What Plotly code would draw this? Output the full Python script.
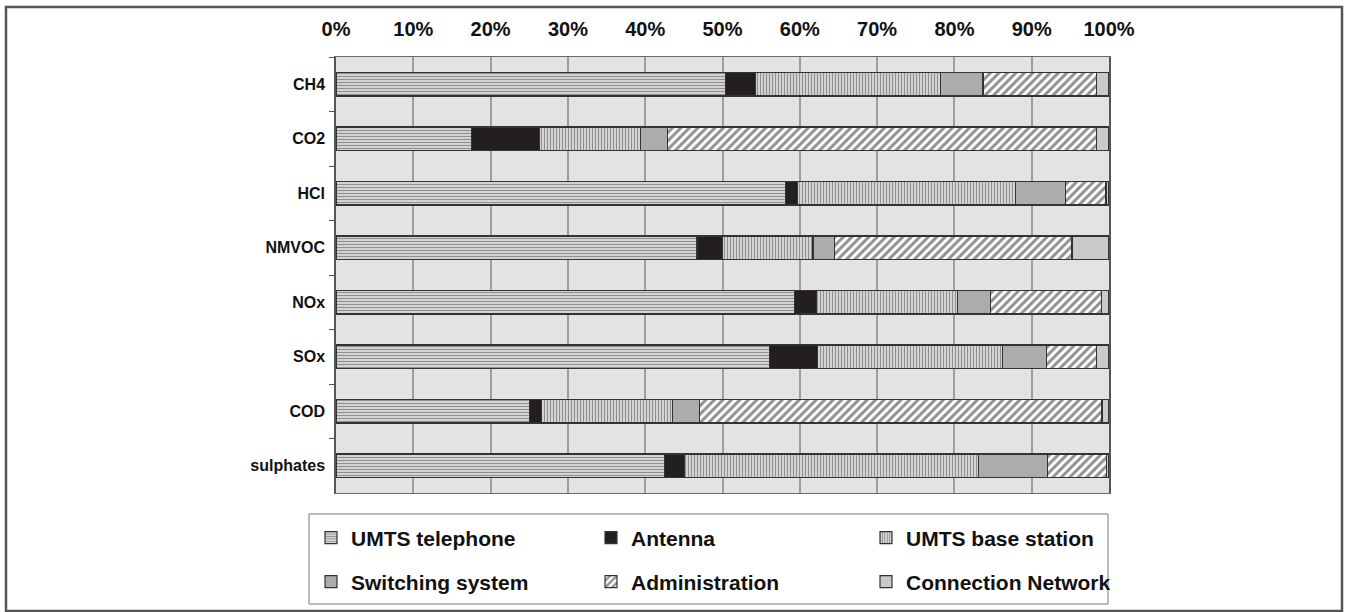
import plotly.graph_objects as go

categories = ["CH4", "CO2", "HCl", "NMVOC", "NOx", "SOx", "COD", "sulphates"]

umts_telephone = [50.4, 17.5, 58.2, 46.7, 59.3, 56.1, 25.0, 42.5]
antenna = [3.9, 8.8, 1.5, 3.3, 2.9, 6.2, 1.6, 2.6]
umts_base_station = [23.9, 13.1, 28.2, 11.7, 18.2, 23.9, 16.9, 38.0]
switching_system = [5.5, 3.5, 6.5, 2.8, 4.3, 5.7, 3.5, 8.9]
administration = [14.7, 55.5, 5.2, 30.7, 14.3, 6.5, 52.1, 7.7]
connection_network = [1.6, 1.6, 0.4, 4.8, 1.0, 1.6, 0.9, 0.3]

x_ticks = [0, 10, 20, 30, 40, 50, 60, 70, 80, 90, 100]
x_tick_labels = ["0%", "10%", "20%", "30%", "40%", "50%", "60%", "70%", "80%", "90%", "100%"]

W, H = 1345, 612
L, R, T, B = 336, 1109, 57, 493


def px_x(p):
    return (p - L) / (R - L)


def px_y(p):
    return (B - p) / (B - T)


FONT = "Liberation Sans, Arial, Helvetica, sans-serif"
DARK = "#231f20"
OUTLINE = "#333333"

series = [
    ("UMTS telephone", umts_telephone,
     dict(color="white", pattern=dict(shape="-", fgcolor=DARK, bgcolor="white", size=3, solidity=0.6))),
    ("Antenna", antenna, dict(color=DARK)),
    ("UMTS base station", umts_base_station,
     dict(color="white", pattern=dict(shape="|", fgcolor=DARK, bgcolor="white", size=3, solidity=0.6))),
    ("Switching system", switching_system, dict(color="#abacae")),
    ("Administration", administration,
     dict(color="white", pattern=dict(shape="/", fgcolor=DARK, bgcolor="white", size=6, solidity=0.5))),
    ("Connection Network", connection_network, dict(color="#c9cacc")),
]

legend_ids = ["legend", "legend2", "legend3", "legend4", "legend5", "legend6"]
col_px = [311, 591, 866]
row_px = [538, 582]

fig = go.Figure()
for i, (name, vals, marker) in enumerate(series):
    marker = dict(marker)
    marker["line"] = dict(color=OUTLINE, width=1.2)
    fig.add_trace(go.Bar(
        y=categories, x=vals, name=name, orientation="h",
        marker=marker, legend=legend_ids[i],
        hovertemplate="%{y}: %{x}%<extra>" + name + "</extra>",
    ))

layout_legends = {}
for i, lid in enumerate(legend_ids):
    layout_legends[lid] = dict(
        x=px_x(col_px[i % 3]), y=px_y(row_px[i // 3]),
        xanchor="left", yanchor="middle",
        bgcolor="rgba(0,0,0,0)", borderwidth=0,
        font=dict(family=FONT, size=21, color="#111", weight="bold"),
    )

fig.update_layout(
    width=W, height=H,
    margin=dict(l=L, r=W - R, t=T, b=H - B, pad=0, autoexpand=False),
    barmode="stack", bargap=0.57,
    plot_bgcolor="#e2e3e5", paper_bgcolor="white",
    showlegend=True,
    **layout_legends,
    xaxis=dict(
        side="top", range=[0, 100], tickvals=x_ticks, ticktext=x_tick_labels,
        showgrid=True, gridcolor="#9e9fa1", gridwidth=1.5,
        zeroline=False, showline=True, mirror=True, linecolor="#6a6a6a", linewidth=1,
        ticks="", ticklabelstandoff=12,
        tickfont=dict(family=FONT, size=20, color="#111", weight="bold"),
        fixedrange=True,
    ),
    yaxis=dict(
        categoryorder="array", categoryarray=categories, autorange="reversed",
        showgrid=False, zeroline=False, showline=True, mirror=True,
        linecolor="#555", linewidth=1.5,
        ticks="outside", tickson="boundaries", ticklen=5, tickcolor="#555",
        ticklabelstandoff=6,
        tickfont=dict(family=FONT, size=16, color="#111", weight="bold"),
        fixedrange=True,
    ),
    shapes=[
        dict(type="rect", xref="paper", yref="paper",
             x0=px_x(309), x1=px_x(1108), y0=px_y(604), y1=px_y(514),
             line=dict(color="#7a7a7a", width=1), fillcolor="rgba(0,0,0,0)", layer="below"),
        dict(type="rect", xref="paper", yref="paper",
             x0=px_x(6), x1=px_x(1342), y0=px_y(611), y1=px_y(7),
             line=dict(color="#555", width=2.5), fillcolor="rgba(0,0,0,0)", layer="below"),
    ],
)

fig.write_html(
    "out.html",
    config={"displayModeBar": False},
    post_script="document.body.style.margin='0px';document.body.style.padding='0px';",
)
